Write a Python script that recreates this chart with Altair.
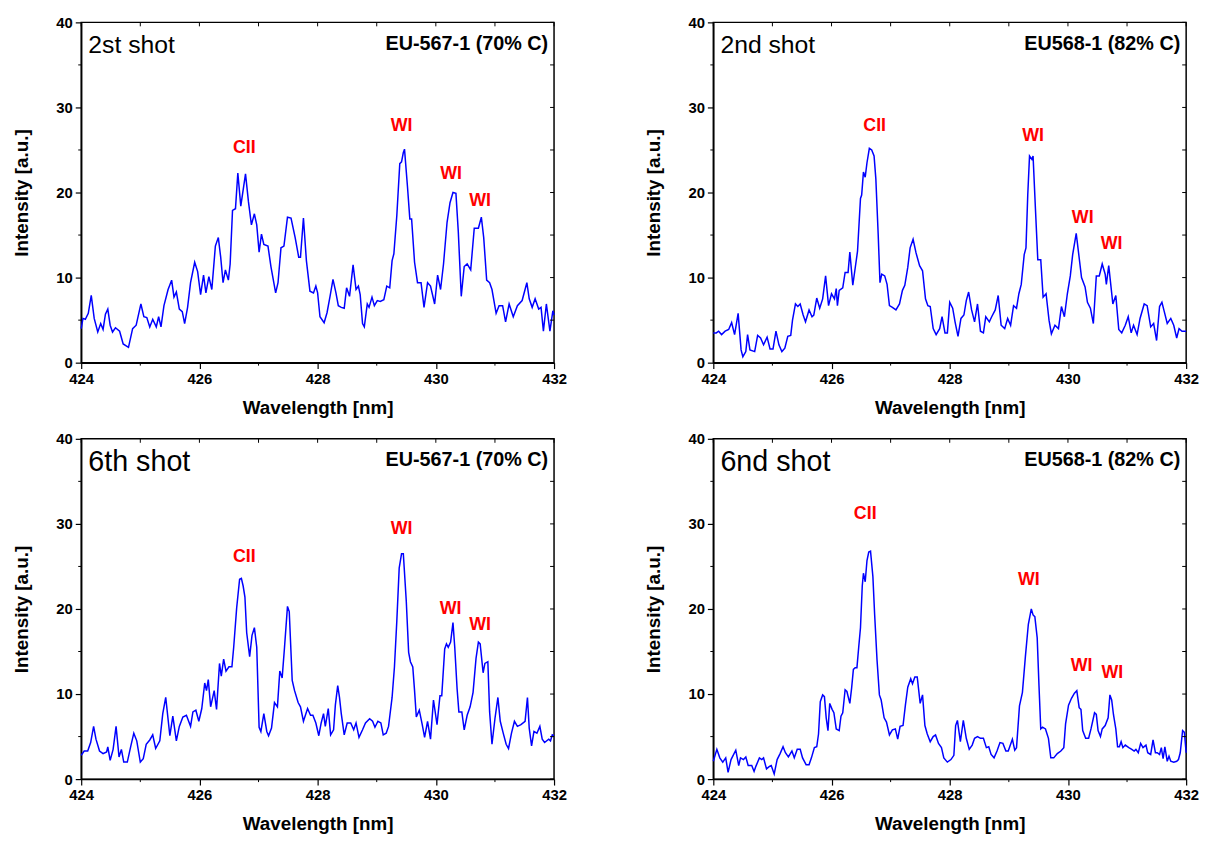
import altair as alt
import pandas as pd

# ---------------- data ----------------
wl_a = [424.00,424.03,424.07,424.12,424.17,424.22,424.28,424.33,424.37,424.41,
        424.45,424.49,424.53,424.58,424.65,424.71,424.80,424.87,424.93,425.01,
        425.06,425.11,425.16,425.21,425.27,425.31,425.35,425.40,425.47,425.53,
        425.57,425.61,425.66,425.71,425.75,425.80,425.85,425.92,425.97,426.02,
        426.07,426.11,426.16,426.21,426.27,426.32,426.36,426.40,426.44,426.49,
        426.52,426.56,426.61,426.65,426.70,426.78,426.83,426.88,426.93,426.97,
        427.01,427.05,427.09,427.16,427.21,427.29,427.33,427.38,427.43,427.49,
        427.55,427.62,427.68,427.71,427.76,427.81,427.87,427.93,427.97,428.00,
        428.04,428.11,428.16,428.21,428.26,428.31,428.35,428.40,428.45,428.49,
        428.54,428.60,428.65,428.69,428.72,428.76,428.79,428.84,428.87,428.92,
        428.96,429.01,429.06,429.12,429.17,429.22,429.26,429.29,429.34,429.39,
        429.42,429.45,429.47,429.52,429.56,429.59,429.64,429.69,429.75,429.80,
        429.86,429.91,429.98,430.03,430.08,430.13,430.19,430.24,430.29,430.34,
        430.38,430.43,430.48,430.53,430.59,430.65,430.72,430.77,430.81,430.86,
        430.91,430.95,431.02,431.07,431.13,431.18,431.24,431.31,431.38,431.46,
        431.54,431.58,431.63,431.68,431.74,431.78,431.82,431.87,431.93,431.98,
        432.00]
int_a = [4.0,5.2,5.1,5.8,7.9,5.2,3.6,4.6,3.9,5.7,
         6.3,4.4,3.6,4.1,3.7,2.2,1.8,4.0,4.4,6.9,
         5.4,5.3,4.2,5.1,4.2,5.4,4.2,6.7,8.6,9.7,
         7.7,8.3,6.3,6.0,4.6,6.5,9.4,11.8,10.7,8.0,
         10.3,8.2,10.1,8.6,13.7,14.7,12.4,9.4,10.9,9.7,
         11.6,17.9,18.1,22.3,18.4,22.2,18.9,16.2,17.5,16.2,
         13.0,15.1,13.9,13.7,11.3,8.2,9.4,13.5,13.7,17.1,
         17.0,14.7,12.4,12.4,17.0,12.0,8.4,8.2,9.0,8.2,
         5.4,4.7,5.9,7.8,9.8,8.2,6.7,6.5,6.4,8.8,
         7.8,11.5,8.6,9.0,8.0,4.6,4.2,6.9,6.5,7.7,
         6.7,7.3,7.2,7.4,9.0,8.8,12.0,12.8,17.3,23.4,
         23.6,24.7,25.1,20.7,16.9,16.9,11.8,9.4,9.4,6.5,
         9.4,9.0,6.9,10.3,8.6,11.6,16.5,18.8,20.0,19.9,
         15.4,7.8,11.3,11.6,10.9,15.8,15.8,17.1,14.7,9.7,
         9.4,8.6,5.8,6.7,6.7,4.8,6.9,5.4,6.7,7.3,
         9.4,7.5,6.5,7.5,6.3,6.5,3.7,6.9,3.7,6.1,
         5.6]

wl_b = [424.00,424.05,424.09,424.14,424.20,424.26,424.31,424.36,424.42,424.47,
        424.50,424.55,424.58,424.62,424.70,424.75,424.80,424.85,424.91,424.96,
        425.01,425.06,425.11,425.16,425.21,425.26,425.31,425.34,425.39,425.43,
        425.47,425.52,425.56,425.62,425.67,425.70,425.75,425.80,425.85,425.90,
        425.95,426.00,426.05,426.08,426.10,426.13,426.19,426.23,426.28,426.31,
        426.36,426.41,426.44,426.49,426.51,426.54,426.57,426.60,426.64,426.68,
        426.72,426.75,426.79,426.82,426.85,426.90,426.94,426.98,427.03,427.09,
        427.15,427.20,427.24,427.29,427.33,427.38,427.43,427.49,427.54,427.59,
        427.63,427.67,427.72,427.77,427.83,427.87,427.92,427.96,428.00,428.05,
        428.09,428.14,428.19,428.24,428.28,428.32,428.37,428.42,428.47,428.52,
        428.57,428.61,428.67,428.71,428.77,428.82,428.87,428.93,428.98,429.03,
        429.08,429.13,429.17,429.21,429.26,429.29,429.32,429.35,429.39,429.41,
        429.45,429.49,429.54,429.58,429.63,429.68,429.72,429.78,429.84,429.89,
        429.94,429.99,430.04,430.08,430.14,430.18,430.23,430.29,430.33,430.38,
        430.43,430.48,430.53,430.58,430.63,430.65,430.69,430.76,430.81,430.86,
        430.91,430.97,431.02,431.07,431.11,431.17,431.22,431.29,431.34,431.40,
        431.45,431.50,431.55,431.59,431.63,431.68,431.74,431.79,431.84,431.88,
        431.93,432.00]
int_b = [3.5,3.5,3.7,3.3,3.7,3.9,4.7,3.3,5.8,1.5,
         0.7,1.3,3.3,1.5,1.3,3.2,2.9,2.1,3.0,1.6,
         1.6,3.7,2.1,1.3,1.7,3.1,3.2,5.0,6.9,6.6,
         6.9,5.6,4.8,6.2,5.4,5.6,7.6,6.4,7.5,10.2,
         6.7,8.1,7.5,8.7,6.7,8.5,8.8,10.6,10.6,13.0,
         9.1,11.6,13.1,19.3,19.7,22.4,21.8,23.5,25.2,25.0,
         24.3,21.6,15.0,9.4,10.4,10.2,9.2,6.7,6.5,6.2,
         6.9,8.5,9.1,11.2,13.5,14.5,12.9,11.4,10.8,7.5,
         6.7,6.6,4.0,3.3,4.0,5.4,3.5,3.5,7.1,6.4,
         4.8,3.1,5.2,5.6,7.3,8.3,6.2,4.8,6.9,3.7,
         3.5,5.4,4.8,5.4,6.2,7.9,4.4,4.0,5.2,4.4,
         6.7,6.4,8.1,9.2,12.7,13.5,19.7,24.3,23.9,24.3,
         18.1,12.1,12.1,7.7,8.1,5.0,3.4,4.4,4.0,6.6,
         5.4,8.1,10.2,12.7,15.2,12.9,10.0,8.9,7.1,6.4,
         4.6,10.2,10.2,11.6,10.4,9.2,11.4,6.9,7.9,3.9,
         3.5,4.4,5.4,3.5,4.4,3.3,5.2,6.9,6.7,4.2,
         4.6,2.6,6.6,7.1,6.0,4.6,5.2,4.4,2.9,4.0,
         3.7,3.7]

wl_c = [424.00,424.05,424.11,424.16,424.21,424.25,424.31,424.37,424.43,424.45,
        424.49,424.54,424.59,424.64,424.68,424.72,424.78,424.84,424.89,424.94,
        425.00,425.05,425.10,425.16,425.21,425.26,425.33,425.38,425.43,425.50,
        425.55,425.61,425.66,425.72,425.78,425.85,425.89,425.94,425.99,426.04,
        426.09,426.12,426.15,426.19,426.25,426.29,426.34,426.37,426.41,426.45,
        426.50,426.55,426.58,426.63,426.68,426.71,426.74,426.77,426.80,426.85,
        426.89,426.93,426.97,427.01,427.04,427.09,427.14,427.17,427.22,427.27,
        427.32,427.36,427.40,427.44,427.49,427.52,427.57,427.61,427.67,427.71,
        427.76,427.83,427.88,427.92,427.97,428.02,428.06,428.10,428.13,428.18,
        428.22,428.27,428.30,428.34,428.37,428.40,428.45,428.50,428.56,428.61,
        428.65,428.70,428.76,428.81,428.88,428.93,428.97,429.02,429.07,429.11,
        429.16,429.20,429.26,429.30,429.34,429.38,429.42,429.45,429.50,429.54,
        429.57,429.61,429.64,429.67,429.72,429.77,429.81,429.86,429.91,429.96,
        430.02,430.07,430.10,430.15,430.18,430.21,430.25,430.29,430.32,430.36,
        430.39,430.44,430.48,430.53,430.58,430.63,430.68,430.72,430.75,430.80,
        430.83,430.88,430.91,430.95,431.00,431.05,431.09,431.14,431.19,431.23,
        431.28,431.33,431.38,431.44,431.51,431.55,431.58,431.62,431.66,431.71,
        431.76,431.80,431.84,431.91,431.94,431.97,432.00]
int_c = [2.8,3.3,3.3,4.3,6.2,4.7,3.3,3.0,3.2,3.8,
         2.2,3.5,6.2,2.6,3.5,2.0,2.0,3.9,5.4,4.5,
         2.0,2.4,4.1,4.6,5.2,3.6,4.5,7.7,9.6,5.1,
         7.4,4.5,6.2,7.3,7.5,6.2,7.9,8.1,6.8,8.3,
         11.3,10.4,11.7,8.5,10.4,8.2,13.6,12.1,14.1,12.7,
         13.2,13.2,15.5,20.1,23.5,23.6,22.7,21.4,17.2,14.4,
         16.9,17.8,15.5,6.1,5.6,7.7,5.6,5.1,6.0,9.0,
         8.5,12.7,11.9,15.5,20.3,19.7,11.6,10.4,9.0,8.5,
         6.8,8.3,7.5,7.5,6.6,5.1,6.6,7.7,6.2,8.3,
         5.2,5.8,8.7,11.0,9.6,7.7,5.2,6.6,6.6,5.8,
         6.6,4.9,5.8,6.6,7.1,6.8,6.1,6.8,6.6,5.2,
         5.4,6.2,9.6,13.2,18.6,24.8,26.5,26.5,20.9,14.9,
         13.8,13.2,10.4,7.3,8.1,6.4,4.9,6.8,4.7,9.3,
         6.4,9.8,9.8,15.3,15.9,15.5,16.1,18.4,15.5,10.6,
         7.9,7.9,5.8,7.5,8.5,10.2,14.2,16.1,15.9,12.5,
         13.6,13.8,7.9,4.1,7.1,9.6,6.8,5.4,4.1,3.6,
         5.4,6.8,6.2,6.4,6.8,9.6,6.0,3.9,5.6,5.4,
         6.2,4.7,4.3,4.7,4.5,5.2,5.1]

wl_d = [424.00,424.06,424.11,424.16,424.21,424.25,424.30,424.38,424.43,424.46,
        424.51,424.55,424.59,424.65,424.69,424.72,424.78,424.82,424.85,424.90,
        424.95,424.98,425.03,425.08,425.13,425.18,425.22,425.27,425.33,425.37,
        425.42,425.47,425.51,425.57,425.62,425.66,425.71,425.75,425.78,425.81,
        425.85,425.88,425.91,425.94,425.97,426.01,426.04,426.08,426.13,426.16,
        426.19,426.23,426.26,426.31,426.34,426.37,426.40,426.43,426.46,426.49,
        426.52,426.54,426.57,426.60,426.63,426.66,426.70,426.73,426.77,426.81,
        426.84,426.89,426.93,426.98,427.03,427.08,427.12,427.16,427.21,427.25,
        427.29,427.34,427.37,427.41,427.45,427.50,427.54,427.58,427.62,427.67,
        427.72,427.76,427.81,427.86,427.90,427.96,428.02,428.07,428.10,428.13,
        428.18,428.23,428.28,428.33,428.38,428.42,428.47,428.52,428.57,428.62,
        428.66,428.70,428.75,428.80,428.85,428.90,428.95,428.99,429.06,429.10,
        429.13,429.18,429.23,429.28,429.33,429.38,429.41,429.44,429.48,429.51,
        429.54,429.57,429.62,429.67,429.71,429.76,429.82,429.88,429.93,429.96,
        430.01,430.06,430.11,430.15,430.19,430.22,430.25,430.30,430.35,430.39,
        430.45,430.48,430.51,430.55,430.58,430.63,430.68,430.71,430.74,430.77,
        430.81,430.84,430.87,430.90,430.93,430.97,431.03,431.08,431.12,431.15,
        431.19,431.23,431.27,431.32,431.35,431.40,431.44,431.48,431.51,431.55,
        431.58,431.61,431.64,431.68,431.71,431.74,431.79,431.84,431.87,431.90,
        431.94,431.97,432.00]
int_d = [2.1,3.5,2.5,2.0,2.5,0.8,2.3,3.4,1.6,2.5,
         2.3,2.6,1.6,1.6,0.9,1.5,2.5,2.3,2.5,1.2,
         1.5,1.6,0.6,2.3,3.0,3.8,3.1,2.6,3.3,2.5,
         3.5,3.5,2.5,1.7,1.7,2.5,3.7,3.8,5.3,9.1,
         9.9,9.7,7.2,5.7,8.9,8.2,7.8,5.9,5.7,7.4,
         7.8,10.5,10.3,8.9,10.7,12.9,13.1,13.1,15.5,17.8,
         22.7,24.2,23.2,25.7,26.7,26.8,23.8,19.3,14.0,9.9,
         9.3,7.2,6.7,5.2,5.8,5.9,4.7,6.2,6.3,8.7,
         10.8,11.8,11.2,12.0,12.0,8.9,9.9,6.3,5.3,4.4,
         5.0,5.2,4.2,3.7,2.5,2.0,2.3,2.8,6.3,6.9,
         4.4,6.9,4.8,3.5,4.0,4.8,5.0,4.8,4.8,3.7,
         3.8,2.9,2.5,3.3,4.3,4.2,3.3,3.3,4.7,3.4,
         3.7,8.6,10.2,14.4,18.2,20.0,19.3,19.1,16.6,11.0,
         5.9,6.1,5.9,4.8,2.5,2.5,3.0,3.3,3.7,6.5,
         8.7,9.5,10.1,10.4,8.4,8.2,5.7,4.8,4.8,5.9,
         7.8,7.6,5.7,5.0,5.9,6.3,7.2,9.9,9.3,7.6,
         5.9,3.8,3.8,4.4,3.7,4.0,3.7,3.5,3.3,3.5,
         3.1,4.2,3.7,4.0,3.1,2.9,4.6,3.1,3.1,2.9,
         3.7,2.4,3.8,2.1,2.7,2.1,2.0,2.1,2.3,3.1,
         5.7,5.5,3.1]

# peak labels (text, wavelength, intensity)
peak_text = ["CII", "WI", "WI", "WI"]
peak_x_a = [426.76, 429.42, 430.26, 430.75]
peak_y_a = [25.2, 27.8, 22.2, 19.0]
peak_x_b = [426.73, 429.41, 430.25, 430.74]
peak_y_b = [27.8, 26.6, 17.0, 13.9]
peak_x_c = [426.76, 429.42, 430.25, 430.75]
peak_y_c = [26.1, 29.4, 20.0, 18.1]
peak_x_d = [426.57, 429.34, 430.23, 430.75]
peak_y_d = [31.1, 23.4, 13.3, 12.5]

shots = ["2st shot", "2nd shot", "6th shot", "6nd shot"]
samples = ["EU-567-1 (70% C)", "EU568-1 (82% C)", "EU-567-1 (70% C)", "EU568-1 (82% C)"]

x_major = [424, 426, 428, 430, 432]
x_minor = [425, 427, 429, 431]
x_all = [424, 425, 426, 427, 428, 429, 430, 431, 432]
y_major = [0, 10, 20, 30, 40]
y_minor = [5, 15, 25, 35]
y_all = [0, 5, 10, 15, 20, 25, 30, 35, 40]

for a, b in [(wl_a, int_a), (wl_b, int_b), (wl_c, int_c), (wl_d, int_d)]:
    assert len(a) == len(b), (len(a), len(b))

# ---------------- chart ----------------
W, H = 478, 344
FONT = "Liberation Sans"
BLUE = "#0000ff"

xs = alt.Scale(domain=[424, 432], nice=False, zero=False)
ys = alt.Scale(domain=[0, 40], nice=False)
AX = alt.Axis(values=x_major, title="Wavelength [nm]", format="d")
AY = alt.Axis(values=y_major, title="Intensity [a.u.]", format="d")


def X(f):
    return alt.X(f, type="quantitative", scale=xs, axis=AX)


def Y(f):
    return alt.Y(f, type="quantitative", scale=ys, axis=AY)


def panel(wl, inten, px, py, shot, sample, shot_size):
    df = pd.DataFrame({"wl": wl, "I": inten})
    line = alt.Chart(df).mark_line(color=BLUE, strokeWidth=1.5).encode(x=X("wl"), y=Y("I"))
    pk = pd.DataFrame({"t": peak_text, "x": px, "y": py})
    peaks = alt.Chart(pk).mark_text(color="#ff0000", font=FONT, fontWeight="bold",
                                     fontSize=18, baseline="middle").encode(
        x=X("x"), y=Y("y"), text="t:N")
    lab = pd.DataFrame({"t": [shot], "x": [424.12], "y": [37.3]})
    shot_t = alt.Chart(lab).mark_text(align="left", baseline="middle", font=FONT,
                                      fontSize=shot_size, color="black").encode(
        x=X("x"), y=Y("y"), text="t:N")
    lab2 = pd.DataFrame({"t": [sample], "x": [431.9], "y": [37.5]})
    samp_t = alt.Chart(lab2).mark_text(align="right", baseline="middle", font=FONT,
                                       fontSize=20, fontWeight="bold", color="black").encode(
        x=X("x"), y=Y("y"), text="t:N")
    # minor outward ticks (left, bottom) and inward ticks (top, right)
    ym = alt.Chart(pd.DataFrame({"v": y_minor})).mark_rule(color="black", strokeWidth=1).encode(
        y=Y("v"), x=alt.value(0), x2=alt.value(-3))
    xm = alt.Chart(pd.DataFrame({"v": x_minor})).mark_rule(color="black", strokeWidth=1).encode(
        x=X("v"), y=alt.value(H), y2=alt.value(H + 3))
    yr = alt.Chart(pd.DataFrame({"v": y_all})).mark_rule(color="black", strokeWidth=1).encode(
        y=Y("v"), x=alt.value(W), x2=alt.value(W - 4))
    xt = alt.Chart(pd.DataFrame({"v": x_all})).mark_rule(color="black", strokeWidth=1).encode(
        x=X("v"), y=alt.value(0), y2=alt.value(4))
    return alt.layer(line, ym, xm, yr, xt, peaks, shot_t, samp_t).properties(width=W, height=H)


p1 = panel(wl_a, int_a, peak_x_a, peak_y_a, shots[0], samples[0], 25)
p2 = panel(wl_b, int_b, peak_x_b, peak_y_b, shots[1], samples[1], 25)
p3 = panel(wl_c, int_c, peak_x_c, peak_y_c, shots[2], samples[2], 29)
p4 = panel(wl_d, int_d, peak_x_d, peak_y_d, shots[3], samples[3], 29)

chart = alt.concat(p1, p2, p3, p4, columns=2, spacing={"row": 13, "column": 76}).properties(
    padding={"left": 3, "top": 2, "right": 0, "bottom": 0}
).configure_view(
    stroke="black", strokeWidth=1.5
).configure_axis(
    domainColor="black", domainWidth=1.5, tickColor="black", tickWidth=1.2, tickSize=6,
    labelFont=FONT, labelFontWeight="bold", labelFontSize=15, labelColor="black",
    labelPadding=3, labelFlush=False, labelOverlap=False, grid=False,
    titleFont=FONT, titleFontWeight="bold", titleFontSize=19, titleColor="black",
).configure_axisX(titlePadding=12).configure_axisY(titlePadding=25)

chart.save("out.html", embed_options={"renderer": "svg", "actions": False})
